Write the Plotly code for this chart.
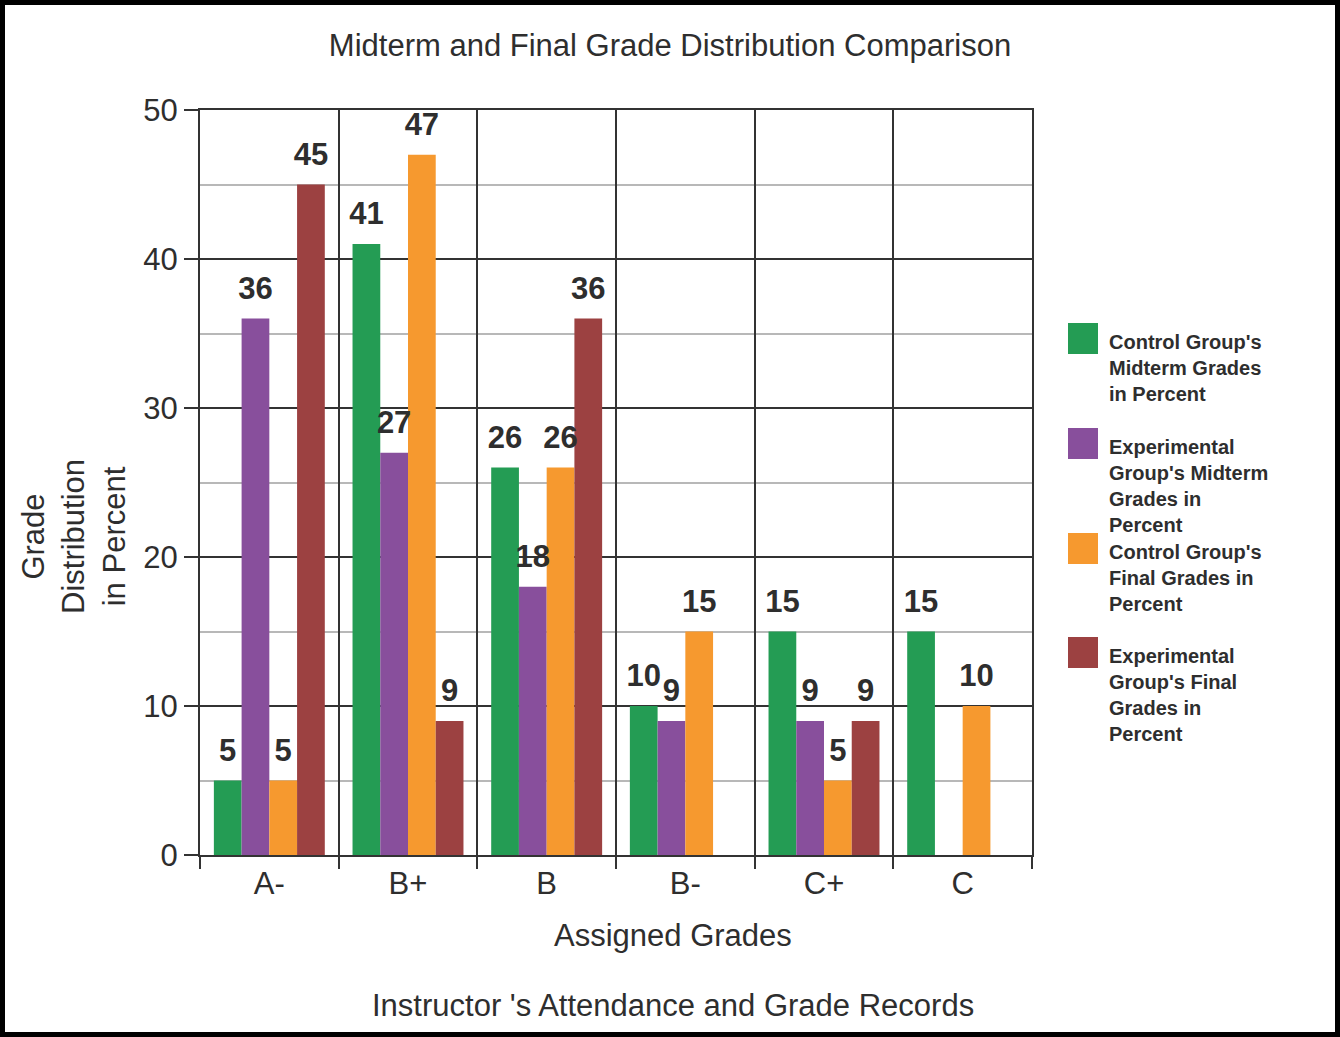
import plotly.graph_objects as go

# ---- data ----
grades = ['A-', 'B+', 'B', 'B-', 'C+', 'C']
control_midterm = [5, 41, 26, 10, 15, 15]
exp_midterm = [36, 27, 18, 9, 9, None]
control_final = [5, 47, 26, 15, 5, 10]
exp_final = [45, 9, 36, None, 9, None]

series_names = [
    "Control Group's<br>Midterm Grades<br>in Percent",
    "Experimental<br>Group's Midterm<br>Grades in<br>Percent",
    "Control Group's<br>Final Grades in<br>Percent",
    "Experimental<br>Group's Final<br>Grades in<br>Percent",
]
series_values = [control_midterm, exp_midterm, control_final, exp_final]
colors = ['#249c54', '#884f9c', '#f6992f', '#9c4141']

title_text = 'Midterm and Final Grade Distribution Comparison'
x_title = 'Assigned Grades'
y_title = 'Grade<br>Distribution<br>in Percent'
caption = "Instructor 's Attendance and Grade Records"

FONT = 'Liberation Sans, Arial, sans-serif'
TXT = '#2e2e2e'
FS = 31

W, H = 1340, 1037
L, R, T, B = 200, 308, 110, 182
PW, PH = W - L - R, H - T - B


def px_x(x):
    return (x - L) / PW


def px_y(y):
    return (H - B - y) / PH


fig = go.Figure()

for i, (name, vals, col) in enumerate(zip(series_names, series_values, colors)):
    fig.add_trace(go.Bar(
        x=grades, y=vals, name=name, marker_color=col, marker_line_width=0,
        offsetgroup=str(i), showlegend=False, hoverinfo='skip'))
    # value labels, grouped the same way as the bars
    fig.add_trace(go.Scatter(
        x=grades, y=vals, mode='text+markers', texttemplate='%{y}',
        textposition='top center', offsetgroup=str(i),
        marker=dict(size=18, opacity=0, color=col),
        textfont=dict(family=FONT, size=FS, color=TXT, weight='bold'),
        showlegend=False, hoverinfo='skip', cliponaxis=False))

# custom legend with large square swatches
shapes = []
annotations = []
sw_top = [323, 428, 533, 637]
for name, col, top in zip(series_names, colors, sw_top):
    shapes.append(dict(type='rect', xref='paper', yref='paper',
                       x0=px_x(1068), x1=px_x(1098), y0=px_y(top + 31), y1=px_y(top),
                       fillcolor=col, line=dict(width=0)))
    annotations.append(dict(xref='paper', yref='paper', x=px_x(1107), y=px_y(top + 6),
                            xanchor='left', yanchor='top', align='left', showarrow=False,
                            text=name, font=dict(family=FONT, size=20, color=TXT, weight='bold')))

# outer black frame
shapes.append(dict(type='rect', xref='paper', yref='paper',
                   x0=px_x(0), x1=px_x(W), y0=px_y(H), y1=px_y(0),
                   line=dict(color='black', width=10), fillcolor='rgba(0,0,0,0)'))

annotations += [
    dict(xref='paper', yref='paper', x=px_x(673), y=px_y(935), text=x_title, showarrow=False,
         xanchor='center', yanchor='middle', font=dict(family=FONT, size=FS, color=TXT)),
    dict(xref='paper', yref='paper', x=px_x(74), y=px_y(537), text=y_title, showarrow=False,
         xanchor='center', yanchor='middle', textangle=-90,
         font=dict(family=FONT, size=FS, color=TXT)),
    dict(xref='paper', yref='paper', x=px_x(673), y=px_y(1005), text=caption, showarrow=False,
         xanchor='center', yanchor='middle', font=dict(family=FONT, size=FS, color=TXT)),
]

fig.update_layout(
    width=W, height=H,
    margin=dict(l=L, r=R, t=T, b=B),
    paper_bgcolor='white', plot_bgcolor='white',
    barmode='group', bargap=0.2, bargroupgap=0,
    scattermode='group', scattergap=0.2,
    title=dict(text=title_text, x=0.5, xref='container', y=1 - 45 / H, yref='container',
               xanchor='center', yanchor='middle',
               font=dict(family=FONT, size=FS, color=TXT)),
    font=dict(family=FONT, color=TXT),
    xaxis=dict(
        type='category', tickson='boundaries', ticks='outside', ticklen=12,
        tickwidth=2, tickcolor='#333', showgrid=True, gridcolor='#333', gridwidth=2,
        showline=True, linecolor='#333', linewidth=2, mirror=True,
        tickfont=dict(family=FONT, size=FS, color=TXT)),
    yaxis=dict(
        range=[0, 50], dtick=10, ticks='outside', ticklen=14, tickwidth=2,
        tickcolor='#333', showgrid=True, gridcolor='#333', gridwidth=2,
        showline=True, linecolor='#333', linewidth=2, mirror=True, zeroline=False,
        minor=dict(dtick=5, showgrid=True, gridcolor='#b8b8b8', gridwidth=2),
        tickfont=dict(family=FONT, size=FS, color=TXT)),
    shapes=shapes,
    annotations=annotations,
)

fig.write_html('out.html', config={'displayModeBar': False},
               post_script="document.body.style.margin='0';")
